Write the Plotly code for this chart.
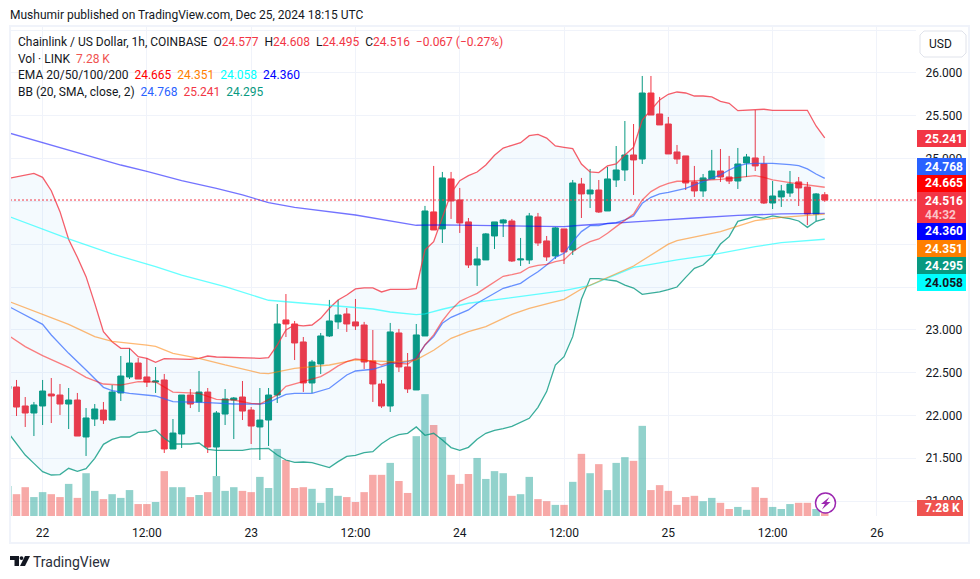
import plotly.graph_objects as go

# ---------- data ----------
hours = list(range(-4, 91))  # hours since 22 Dec 00:00
opens = [22.312,22.332,22.110,22.028,22.110,22.250,22.238,22.133,22.180,21.748,21.958,22.063,21.946,22.262,22.449,22.612,22.449,22.390,22.414,21.608,21.783,22.238,22.157,22.273,21.631,22.016,22.180,22.215,22.063,21.865,21.946,22.238,23.115,23.068,22.858,22.379,22.601,22.928,23.092,23.185,23.092,23.056,22.636,22.367,22.110,22.963,22.566,22.297,22.928,24.377,24.178,24.762,24.517,24.260,23.757,23.816,24.096,24.248,24.271,23.816,23.816,24.318,24.038,23.863,24.178,23.932,24.703,24.587,24.633,24.388,24.750,24.867,25.042,24.995,25.766,25.521,25.404,25.077,25.031,24.727,24.622,24.762,24.855,24.785,24.738,24.949,25.007,24.937,24.481,24.552,24.598,24.727,24.668,24.353,24.577]
highs = [22.350,22.414,22.215,22.157,22.414,22.437,22.367,22.320,22.262,22.086,22.133,22.157,22.355,22.694,22.787,22.671,22.671,22.565,22.484,21.958,22.238,22.308,22.519,22.320,22.051,22.308,22.215,22.402,22.098,22.320,22.320,23.301,23.418,23.103,22.916,22.648,22.963,23.349,23.349,23.255,23.360,23.092,22.998,22.414,23.080,23.010,22.729,23.068,24.447,24.914,24.844,24.844,24.657,24.306,23.968,24.131,24.260,24.295,24.295,24.073,24.365,24.365,24.096,24.201,24.178,24.750,24.774,24.879,24.750,24.902,25.147,25.439,25.404,25.965,25.965,25.720,25.486,25.159,25.031,24.914,24.820,25.101,25.112,25.031,25.124,25.054,25.568,25.031,24.738,24.692,24.855,24.785,24.727,24.598,24.608]
lows = [22.300,21.993,21.865,21.759,21.888,21.911,22.005,21.841,21.759,21.526,21.876,21.900,21.946,22.168,22.425,22.425,22.332,22.262,21.561,21.608,21.619,22.086,22.040,21.561,21.292,21.888,21.724,21.946,21.666,21.479,21.643,22.145,22.916,22.647,22.274,22.262,22.484,22.916,23.010,22.975,22.998,22.542,22.157,22.087,22.040,22.507,22.262,22.297,22.928,24.166,24.014,24.295,24.131,23.722,23.512,23.816,23.944,24.084,23.792,23.746,23.769,23.979,23.804,23.827,23.769,23.874,24.306,24.423,24.365,24.388,24.668,24.738,24.575,24.937,25.509,25.393,25.054,24.937,24.633,24.552,24.552,24.762,24.727,24.703,24.645,24.785,24.855,24.470,24.411,24.435,24.552,24.446,24.224,24.271,24.495]
closes = [22.343,22.098,22.028,22.122,22.285,22.227,22.133,22.180,21.759,21.970,22.075,21.946,22.273,22.460,22.612,22.425,22.390,22.402,21.608,21.794,22.238,22.133,22.273,21.631,22.028,22.192,22.203,22.051,21.876,21.946,22.238,23.068,23.068,22.846,22.379,22.624,22.928,23.103,23.173,23.068,23.045,22.624,22.367,22.110,22.975,22.566,22.309,22.940,24.388,24.166,24.774,24.505,24.248,23.757,23.827,24.120,24.260,24.283,23.804,23.827,24.330,24.014,23.851,24.190,23.909,24.715,24.587,24.633,24.376,24.762,24.867,25.042,24.984,25.766,25.509,25.393,25.054,24.995,24.715,24.622,24.774,24.855,24.785,24.738,24.937,25.019,24.914,24.481,24.563,24.622,24.703,24.657,24.353,24.587,24.516]
volumes_k = [73,53,70,46,58,53,46,78,44,104,61,41,53,44,63,29,29,34,109,70,70,46,51,58,97,61,70,61,58,95,68,163,136,68,70,66,32,68,49,46,34,58,100,100,129,85,56,194,296,221,192,100,78,102,141,90,109,104,49,53,95,41,36,27,27,83,151,104,126,63,129,143,134,219,63,75,61,27,46,49,36,44,32,17,22,15,70,44,22,17,29,32,32,17,7.28]

bb_upper_h = [-4,-3,-2,-1,0,1,2,3,4,5,6,7,8,9,10,11,12,13,14,15,17,18,19,20,23,25,26,27,28,29,30,31,32,33,34,35,36,37,38,39,40,41,42,43,44,45,46,47,48,49,50,51,52,53,54,55,56,57,58,59,60,61,62,63,64,65,66,67,68,69,70,71,72,73,74,75,76,77,78,79,80,81,82,83,84,85,86,87,88,89,90]
bb_upper = [24.766,24.789,24.808,24.828,24.781,24.625,24.380,24.055,23.847,23.621,23.309,22.978,22.861,22.784,22.784,22.686,22.667,22.620,22.663,22.663,22.655,22.667,22.694,22.682,22.674,22.667,22.674,22.822,22.998,23.056,23.045,23.056,23.134,23.251,23.349,23.407,23.477,23.489,23.489,23.442,23.473,23.469,23.473,23.481,23.933,24.030,24.303,24.595,24.742,24.800,24.843,24.925,25.038,25.123,25.155,25.186,25.268,25.283,25.240,25.147,25.131,25.116,24.937,24.844,24.836,24.914,24.937,25.042,25.132,25.451,25.568,25.685,25.751,25.778,25.766,25.731,25.731,25.720,25.669,25.646,25.560,25.568,25.576,25.576,25.564,25.564,25.556,25.556,25.564,25.381,25.241]

bb_lower_h = [-4,-3,-2,-1,0,1,2,3,4,5,6,7,8,9,10,11,12,13,14,15,17,18,19,20,23,24,26,27,28,29,30,31,32,33,34,35,36,37,38,39,40,41,42,43,44,45,46,47,48,49,50,51,52,53,54,55,56,57,58,59,60,61,62,63,64,65,66,67,68,69,70,71,72,73,74,75,76,77,78,79,80,81,82,83,84,85,86,87,88,89,90]
bb_lower = [21.802,21.674,21.537,21.440,21.343,21.304,21.308,21.382,21.347,21.378,21.499,21.662,21.720,21.748,21.748,21.802,21.806,21.830,21.732,21.666,21.666,21.678,21.604,21.592,21.592,21.608,21.615,21.537,21.479,21.452,21.456,21.448,21.421,21.390,21.460,21.522,21.534,21.565,21.577,21.670,21.736,21.775,21.791,21.865,21.768,21.791,21.713,21.624,21.592,21.627,21.721,21.791,21.826,21.845,21.873,21.919,21.966,22.095,22.278,22.589,22.686,22.920,23.356,23.598,23.598,23.582,23.570,23.523,23.488,23.414,23.426,23.442,23.469,23.500,23.613,23.718,23.757,23.851,24.002,24.088,24.267,24.291,24.322,24.302,24.330,24.314,24.298,24.271,24.197,24.267,24.295]

bb_basis_h = [-4,-2,-1,0,1,3,5,7,8,10,13,15,19,22,25,26,27,28,29,31,33,34,35,36,38,40,42,43,44,45,46,47,48,49,50,51,52,53,54,55,56,57,58,59,60,61,62,63,64,65,66,67,68,69,70,71,72,74,76,78,79,80,81,82,84,85,86,87,88,89,90]
bb_basis = [23.278,23.173,23.122,23.064,22.939,22.725,22.530,22.328,22.289,22.258,22.227,22.160,22.149,22.133,22.133,22.149,22.199,22.246,22.258,22.258,22.317,22.394,22.472,22.519,22.539,22.601,22.628,22.667,22.823,22.920,23.076,23.146,23.193,23.232,23.310,23.368,23.426,23.485,23.512,23.543,23.613,23.679,23.757,23.847,23.894,24.030,24.147,24.217,24.217,24.244,24.252,24.283,24.330,24.478,24.548,24.587,24.606,24.653,24.731,24.809,24.867,24.914,24.937,24.945,24.945,24.941,24.929,24.918,24.879,24.820,24.768]

ema20_h = [-4,-2,0,3,5,7,9,11,13,15,18,20,22,24,25,27,28,29,30,32,33,34,35,36,37,38,39,40,41,42,43,44,45,46,47,48,49,50,51,52,53,54,55,56,57,58,59,60,61,62,63,64,65,66,67,68,69,70,71,72,73,74,78,80,82,83,84,86,88,90]
ema20 = [22.939,22.803,22.698,22.562,22.445,22.367,22.355,22.394,22.390,22.273,22.258,22.188,22.180,22.141,22.133,22.238,22.340,22.367,22.394,22.453,22.511,22.578,22.628,22.659,22.648,22.624,22.589,22.620,22.609,22.601,22.667,22.823,22.940,23.103,23.232,23.333,23.380,23.426,23.493,23.563,23.625,23.644,23.668,23.730,23.753,23.765,23.796,23.816,23.913,23.979,24.030,24.061,24.127,24.205,24.275,24.353,24.517,24.614,24.672,24.711,24.735,24.735,24.758,24.781,24.801,24.781,24.750,24.719,24.692,24.665]

ema50_h = [-4,0,3,6,8,12,13,15,18,21,25,26,28,29,33,36,38,41,43,45,47,49,51,54,56,60,62,68,72,73,78,82,85,90]
ema50 = [23.336,23.185,23.064,22.920,22.865,22.822,22.807,22.725,22.667,22.589,22.495,22.488,22.530,22.550,22.589,22.648,22.636,22.624,22.648,22.761,22.901,22.979,23.037,23.181,23.251,23.356,23.477,23.745,24.000,24.041,24.147,24.275,24.314,24.351]

ema100_h = [-4,3,8,13,16,21,26,30,33,38,40,43,44,46,49,54,60,63,65,68,73,77,82,85,90]
ema100 = [24.329,24.061,23.886,23.738,23.640,23.504,23.345,23.310,23.282,23.243,23.208,23.177,23.185,23.240,23.310,23.376,23.457,23.520,23.601,23.730,23.816,23.874,23.971,24.018,24.058]

ema200_h = [-4,0,3,5,7,9,12,16,20,23,26,29,36,41,43,46,50,60,62,66,69,75,80,85,90]
ema200 = [25.303,25.186,25.101,25.042,24.976,24.925,24.851,24.742,24.653,24.575,24.486,24.431,24.341,24.256,24.221,24.225,24.217,24.205,24.221,24.252,24.267,24.306,24.337,24.353,24.360]

last_price = 24.516
price_ticks = [21, 21.5, 22, 22.5, 23, 23.5, 24, 24.5, 25, 25.5, 26, 26.5]
price_tick_labels = ["21.000","21.500","22.000","22.500","23.000","","","","25.000","25.500","26.000",""]
time_ticks = [0, 12, 24, 36, 48, 60, 72, 84, 96]
time_tick_labels = ["22","12:00","23","12:00","24","12:00","25","12:00","26"]

# ---------- style ----------
FONT = "Roboto"
INK = "#131722"
RED = "#f23645"
GREEN = "#089981"
GRID = "#f0f3fa"
W, H = 980, 579
PL, PR, PT, PB = 10, 916, 27, 516


def px(x):
    return (x - PL) / (PR - PL)


def py(y):
    return (PB - y) / (PB - PT)


def path(points):
    return "M " + " L ".join(f"{px(x):.5f},{py(y):.5f}" for x, y in points) + " Z"


fig = go.Figure()

vol_colors = ["rgba(239,83,80,0.5)" if c < o else "rgba(38,166,154,0.5)" for o, c in zip(opens, closes)]
fig.add_trace(go.Bar(x=hours, y=volumes_k, marker=dict(color=vol_colors, line=dict(width=0)), width=0.86,
                     yaxis="y", hoverinfo="skip"))


def line(xs, ys, color, **kw):
    fig.add_trace(go.Scatter(x=xs, y=ys, mode="lines", line=dict(color=color, width=1.3), yaxis="y2",
                             hoverinfo="skip", **kw))


line(bb_upper_h, bb_upper, "rgba(242,54,69,0.8)")
line(bb_lower_h, bb_lower, "rgba(8,153,129,0.8)", fill="tonexty", fillcolor="rgba(33,150,243,0.05)")
line(bb_basis_h, bb_basis, "rgba(41,98,255,0.7)")
line(ema200_h, ema200, "rgba(0,0,255,0.55)")
line(ema100_h, ema100, "rgba(0,255,255,0.6)")
line(ema50_h, ema50, "rgba(255,127,0,0.55)")
line(ema20_h, ema20, "rgba(255,0,0,0.5)")

fig.add_trace(go.Candlestick(
    x=hours, open=opens, high=highs, low=lows, close=closes, yaxis="y2",
    increasing=dict(line=dict(color=GREEN, width=1), fillcolor=GREEN),
    decreasing=dict(line=dict(color=RED, width=1), fillcolor=RED),
    whiskerwidth=0, hoverinfo="skip"))

shapes = []
annotations = []


def text(x, y, s, size=12, color=INK, xanchor="left", family=FONT):
    annotations.append(dict(xref="paper", yref="paper", x=px(x), y=py(y), text=s, showarrow=False,
                            xanchor=xanchor, yanchor="middle", align="left",
                            font=dict(family=family, size=size, color=color),
                            borderpad=0, borderwidth=0))


def span(s, color):
    return f'<span style="color:{color}">{s}</span>'


# last price dotted line
shapes.append(dict(type="line", xref="paper", yref="y2", x0=0, x1=1, y0=last_price, y1=last_price,
                   line=dict(color=RED, width=1, dash="2px,2px"), layer="above"))

# frame
shapes.append(dict(type="rect", xref="paper", yref="paper", x0=px(10), x1=px(969), y0=py(543), y1=py(26),
                   line=dict(color=GRID, width=2), layer="above"))

# price tags
tags = [
    (130, 147, RED, "25.241", "#ffffff"),
    (158, 175, "#2962ff", "24.768", "#ffffff"),
    (175, 192, "#ff0000", "24.665", "#ffffff"),
    (223, 240, "#0000ff", "24.360", "#ffffff"),
    (240, 257, "#ff7f00", "24.351", "#ffffff"),
    (257, 274, GREEN, "24.295", "#ffffff"),
    (274, 291, "#00ffff", "24.058", INK),
]
for y0, y1, col, label, tc in tags:
    shapes.append(dict(type="rect", xref="paper", yref="paper", x0=px(917), x1=px(966), y0=py(y1), y1=py(y0),
                       line=dict(width=0), fillcolor=col, layer="above"))
    text(925, (y0 + y1) / 2, f"<b>{label}</b>", 12, tc)
shapes.append(dict(type="rect", xref="paper", yref="paper", x0=px(917), x1=px(966), y0=py(223), y1=py(192),
                   line=dict(width=0), fillcolor=RED, layer="above"))
text(925, 200.5, "<b>24.516</b>", 12, "#ffffff")
text(925, 214.5, "<b>44:32</b>", 12, "#fbc4c8")
shapes.append(dict(type="rect", xref="paper", yref="paper", x0=px(917), x1=px(963), y0=py(516), y1=py(500),
                   line=dict(width=0), fillcolor="#ef5350", layer="above"))
text(925, 508, "<b>7.28 K</b>", 12, "#ffffff")

# currency button
r = 4
x0, x1, y0, y1 = 920, 966, 31, 57
shapes.append(dict(type="path", xref="paper", yref="paper", layer="above", fillcolor="#ffffff",
                   line=dict(color="#e0e3eb", width=1),
                   path=path([(x0 + r, y0), (x1 - r, y0), (x1, y0 + r), (x1, y1 - r), (x1 - r, y1),
                              (x0 + r, y1), (x0, y1 - r), (x0, y0 + r)])))
text(929, 44, "USD", 12)

# bolt badge
shapes.append(dict(type="circle", xref="paper", yref="paper", x0=px(815.5), x1=px(835.5), y0=py(513), y1=py(493),
                   line=dict(color="#9c27b0", width=1.5), fillcolor="rgba(255,255,255,0.75)", layer="above"))
shapes.append(dict(type="path", xref="paper", yref="paper", layer="above", fillcolor="#9c27b0",
                   line=dict(width=0),
                   path=path([(829.5, 497), (821, 504), (825, 504), (822, 509.5), (830.5, 502), (826.5, 502)])))

# TradingView logo
shapes.append(dict(type="path", xref="paper", yref="paper", layer="above", fillcolor=INK, line=dict(width=0),
                   path=path([(10, 556), (19, 556), (19, 566), (14.5, 566), (14.5, 560), (10, 560)])))
shapes.append(dict(type="circle", xref="paper", yref="paper", x0=px(19.6), x1=px(23.4), y0=py(560), y1=py(556.2),
                   line=dict(width=0), fillcolor=INK, layer="above"))
shapes.append(dict(type="path", xref="paper", yref="paper", layer="above", fillcolor=INK, line=dict(width=0),
                   path=path([(25, 556), (30, 556), (25, 566), (20, 566)])))
text(33, 562, "TradingView", 14, "#2a2e39")

# header and legend rows
text(10, 15, "Mushumir published on TradingView.com, Dec 25, 2024 18:15 UTC", 12)
sp = "&nbsp;&nbsp;"
text(18, 42, "Chainlink / US Dollar, 1h, COINBASE" + sp
     + "O" + span("24.577", RED) + sp + "H" + span("24.608", RED) + sp + "L" + span("24.495", RED) + sp
     + "C" + span("24.516", RED) + sp + span("−0.067 (−0.27%)", RED), 12)
text(18, 59, "Vol · LINK" + sp + span("7.28 K", "#ef5350"), 12)
text(18, 75, "EMA 20/50/100/200" + sp + span("24.665", "#ff0000") + sp + span("24.351", "#ff7f00") + sp
     + span("24.058", "#00ffff") + sp + span("24.360", "#0000ff"), 12)
text(18, 92, "BB (20, SMA, close, 2)" + sp + span("24.768", "#2962ff") + sp + span("25.241", RED) + sp
     + span("24.295", GREEN), 12)

fig.update_layout(
    width=W, height=H, autosize=False,
    margin=dict(l=PL, r=W - PR, t=PT, b=H - PB, pad=0),
    paper_bgcolor="#ffffff", plot_bgcolor="#ffffff",
    showlegend=False, boxgap=0.31, boxgroupgap=0, barmode="overlay", hovermode=False,
    font=dict(family=FONT, size=12, color=INK),
    shapes=shapes, annotations=annotations,
    xaxis=dict(range=[-3.751, 100.5], tickmode="array", tickvals=time_ticks, ticktext=time_tick_labels,
               showgrid=True, gridcolor=GRID, gridwidth=1, zeroline=False, showline=False,
               ticks="outside", ticklen=6, tickcolor="rgba(0,0,0,0)", tickfont=dict(size=12, color=INK),
               rangeslider=dict(visible=False), fixedrange=True),
    yaxis=dict(range=[0, 1188], visible=False, showgrid=False, zeroline=False, fixedrange=True),
    yaxis2=dict(range=[20.825, 26.537], overlaying="y", side="right", tickmode="array", tickvals=price_ticks,
                ticktext=price_tick_labels, showgrid=True, gridcolor=GRID, gridwidth=1, zeroline=False,
                showline=False, ticks="outside", ticklen=6, tickcolor="rgba(0,0,0,0)",
                tickfont=dict(size=12, color=INK), fixedrange=True),
)

fig.write_html("out.html", config=dict(displayModeBar=False),
               post_script="document.body.style.margin='0';")
